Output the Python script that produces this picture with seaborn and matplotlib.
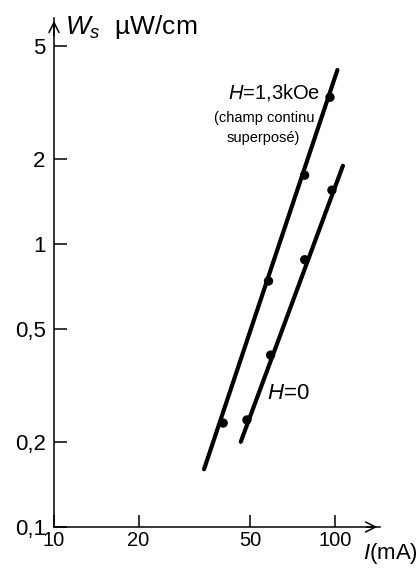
import numpy as np
import pandas as pd
import matplotlib
matplotlib.use("Agg")
import matplotlib.pyplot as plt
import seaborn as sns

# mesures (I en mA, Ws en µW/cm)
i_champ = [40, 58, 78, 96]
w_champ = [0.233, 0.74, 1.75, 3.3]
i_zero = [48.6, 59, 78, 97.5]
w_zero = [0.239, 0.405, 0.88, 1.55]

# droites tracées (extrémités)
i_champ_fit = [34.2, 102]
w_champ_fit = [0.16, 4.12]
i_zero_fit = [46.2, 106.7]
w_zero_fit = [0.20, 1.89]

x_ticks = [10, 20, 50, 100]
x_labels = ["10", "20", "50", "100"]
y_ticks = [0.1, 0.2, 0.5, 1, 2, 5]
y_labels = ["0,1", "0,2", "0,5", "1", "2", "5"]

sns.set_style("ticks")
plt.rcParams["font.family"] = ["Liberation Sans", "DejaVu Sans"]
plt.rcParams["text.color"] = "black"
plt.rcParams["mathtext.fontset"] = "custom"
plt.rcParams["mathtext.rm"] = "Liberation Sans"
plt.rcParams["mathtext.it"] = "Liberation Sans:italic"

fig = plt.figure(figsize=(4.19, 5.68), dpi=100)
ax = fig.add_axes([54 / 419, 41 / 568, 326 / 419, 509 / 568])
ax.set_xscale("log")
ax.set_yscale("log")
ax.set_xlim(10, 144.6)
ax.set_ylim(0.1, 6.29)

fits = pd.DataFrame({"I": i_champ_fit + i_zero_fit, "W": w_champ_fit + w_zero_fit,
                     "serie": ["champ"] * 2 + ["zero"] * 2})
pts = pd.DataFrame({"I": i_champ + i_zero, "W": w_champ + w_zero,
                    "serie": ["champ"] * 4 + ["zero"] * 4})
sns.lineplot(data=fits, x="I", y="W", units="serie", estimator=None, color="black",
             lw=3, ax=ax, solid_capstyle="round")
sns.scatterplot(data=pts, x="I", y="W", color="black", s=45, edgecolor="none", ax=ax, zorder=3)

ax.set_xticks(x_ticks)
ax.set_xticklabels(x_labels)
ax.set_yticks(y_ticks)
ax.set_yticklabels(y_labels)
ax.minorticks_off()
ax.tick_params(axis="both", direction="in", length=9, width=1.1, colors="black")
ax.tick_params(axis="x", pad=3, labelsize=14.5)
ax.tick_params(axis="y", pad=6, labelsize=16)
ax.set_xlabel("")
ax.set_ylabel("")
for s in ["top", "right"]:
    ax.spines[s].set_visible(False)
for s in ["left", "bottom"]:
    ax.spines[s].set_linewidth(1.1)
    ax.spines[s].set_color("black")

ax.annotate("", xy=(1.0, 0), xytext=(0.95, 0), xycoords="axes fraction",
            arrowprops=dict(arrowstyle="->", lw=1.1, color="black", mutation_scale=18))
ax.annotate("", xy=(0, 1.0), xytext=(0, 0.96), xycoords="axes fraction",
            arrowprops=dict(arrowstyle="->", lw=1.1, color="black", mutation_scale=18))

fig.text(65 / 419, 1 - 27 / 568, r"$W_s$  µW/cm", fontsize=19, ha="left", va="center")
fig.text(418 / 419, 1 - 553 / 568, r"$I$(mA)", fontsize=16, ha="right", va="center")

ax.text(41.6, 3.44, r"$H$=1,3kOe", fontsize=14.5, ha="left", va="center")
ax.text(37.2, 2.79, "(champ continu", fontsize=10.5, ha="left", va="center")
ax.text(41.0, 2.37, "superposé)", fontsize=10.5, ha="left", va="center")
ax.text(57.3, 0.297, r"$H$=0", fontsize=16, ha="left", va="center")

plt.savefig("out.png", dpi=100)
